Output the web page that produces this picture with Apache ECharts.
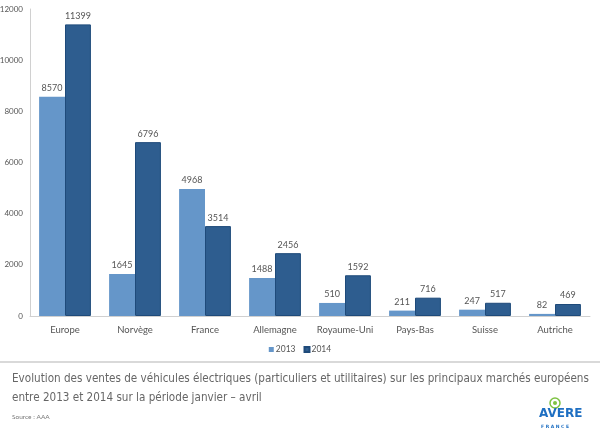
<!DOCTYPE html>
<html>
<head>
<meta charset="utf-8">
<script src="https://cdn.jsdelivr.net/npm/echarts@6/dist/echarts.min.js"></script>
<style>html,body{margin:0;padding:0;background:#fff}#c{width:600px;height:440px}</style>
</head>
<body>
<div id="c"></div>
<script>
const categories = ['Europe','Norvège','France','Allemagne','Royaume-Uni','Pays-Bas','Suisse','Autriche'];
const seriesNames = ['2013','2014'];
const values2013 = [8570,1645,4968,1488,510,211,247,82];
const values2014 = [11399,6796,3514,2456,1592,716,517,469];
const yTicks = [0,2000,4000,6000,8000,10000,12000];

const chart = echarts.init(document.getElementById('c'));
const labelStyle = {show:true, position:'top', color:'#555', fontSize:9, fontFamily:'Lato', distance:4};
chart.setOption({
  animation:false,
  textStyle:{fontFamily:'Lato'},
  grid:{left:30, right:10, top:9, bottom:124, containLabel:false, outerBoundsMode:'none'},
  legend:{
    data:seriesNames, bottom:81, left:'center', itemWidth:5, itemHeight:5, itemGap:8,
    icon:'rect', textStyle:{fontSize:8.5, color:'#555', fontFamily:'Lato', padding:[0,0,0,-3]}
  },
  xAxis:{
    type:'category', data:categories,
    axisLine:{lineStyle:{color:'#d0d0d0', width:1}},
    axisTick:{show:false},
    axisLabel:{color:'#555', fontSize:9.5, margin:9, interval:0, fontFamily:'Lato'}
  },
  yAxis:{
    type:'value', min:yTicks[0], max:yTicks[yTicks.length-1], interval:2000,
    axisLine:{show:true, lineStyle:{color:'#d0d0d0'}},
    axisTick:{show:false},
    splitLine:{show:false},
    axisLabel:{color:'#555', fontSize:8, margin:7, fontFamily:'Lato', formatter:function(v){return String(v);}}
  },
  series:[
    {name:seriesNames[0], type:'bar', data:values2013, barGap:'0%', barCategoryGap:'26%',
     itemStyle:{color:'#6596c9'}, label:labelStyle},
    {name:seriesNames[1], type:'bar', data:values2014,
     itemStyle:{color:'#2e5d8f', borderColor:'#1e4a7a', borderWidth:1}, label:labelStyle}
  ],
  graphic:[
    {type:'rect', shape:{x:0, y:361, width:600, height:2}, style:{fill:'#d9d9d9'}},
    {type:'text', left:12, top:373, style:{text:'Evolution des ventes de véhicules électriques (particuliers et utilitaires) sur les principaux marchés européens', fill:'#666', fontSize:11.6, fontFamily:'DejaVu Sans Condensed'}},
    {type:'text', left:12, top:392, style:{text:'entre 2013 et 2014 sur la période janvier – avril', fill:'#666', fontSize:11.6, fontFamily:'DejaVu Sans Condensed'}},
    {type:'text', left:12, top:413, style:{text:'Source : AAA', fill:'#777', fontSize:6.5, fontFamily:'Lato'}},
    {type:'circle', shape:{cx:555, cy:403, r:5}, style:{fill:'none', stroke:'#7dc242', lineWidth:1.5}},
    {type:'circle', shape:{cx:555, cy:403, r:2}, style:{fill:'#7dc242'}},
    {type:'text', left:539, top:408, style:{text:'AVERE', fill:'#1e6fc2', fontSize:12, fontWeight:'bold', fontFamily:'DejaVu Sans'}},
    {type:'text', left:541, top:424, style:{text:'F R A N C E', fill:'#1e6fc2', fontSize:4.5, fontWeight:'bold', fontFamily:'DejaVu Sans'}}
  ]
});
</script>
</body>
</html>
